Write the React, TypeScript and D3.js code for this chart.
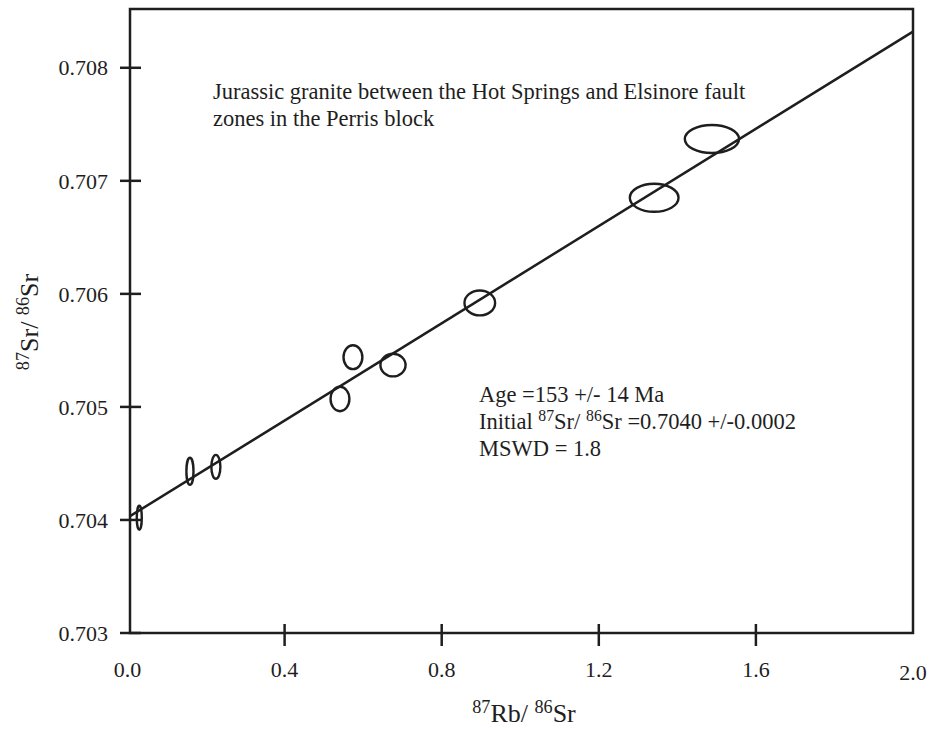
import React from 'react';
import * as d3 from 'd3';

// 87Rb/86Sr, 87Sr/86Sr and the half-axes of each error ellipse
const rbSr = [0.030, 0.159, 0.225, 0.541, 0.574, 0.676, 0.897, 1.341, 1.488];
const srSr = [0.70402, 0.70443, 0.70447, 0.70507, 0.70544, 0.70537, 0.70592, 0.70685, 0.70737];
const errX = [0.0064, 0.009, 0.0115, 0.024, 0.024, 0.032, 0.039, 0.062, 0.069];
const errY = [0.000106, 0.00012, 0.000106, 0.000108, 0.000106, 0.0001, 0.00011, 0.000124, 0.000124];

const xTicks = [0.0, 0.4, 0.8, 1.2, 1.6, 2.0];
const yTicks = [0.703, 0.704, 0.705, 0.706, 0.707, 0.708];

// isochron fit
const intercept = 0.70402;
const slope = 0.00215;

const FONT = '"Liberation Serif", "Times New Roman", serif';
const INK = '#1e1e1e';

// text with superscripts: parts alternate [normal, sup, normal, sup, ...]
function SupText({ parts, size }: { parts: string[]; size: number }) {
  const out: any[] = [];
  let raised = false;
  parts.forEach((p, i) => {
    const sup = i % 2 === 1;
    let dy = 0;
    if (sup && !raised) { dy = -size * 0.36; raised = true; }
    if (!sup && raised) { dy = size * 0.36; raised = false; }
    if (p === '') return;
    out.push(
      <tspan key={i} dy={dy || undefined} fontSize={sup ? size * 0.7 : size}>{p}</tspan>
    );
  });
  return <>{out}</>;
}

export default function App() {
  const width = 935;
  const height = 730;
  const left = 130, right = 913, top = 9, bottom = 633;

  const x = d3.scaleLinear().domain([0, 2]).range([127.5, right]);
  const y = d3.scaleLinear().domain([0.703, 0.70852]).range([bottom, top]);

  const x0 = x.invert(left);
  const line = d3.line<number>()
    .x(d => x(d))
    .y(d => y(intercept + slope * d));

  const noteSize = 22.5;

  return (
    <svg width={width} height={height}
      style={{ position: 'absolute', left: 0, top: 0, background: '#fff' }}
      fontFamily={FONT}>
      {/* frame */}
      <rect x={left} y={top} width={right - left} height={bottom - top}
        fill="none" stroke={INK} strokeWidth={2.5} />

      {/* y ticks */}
      {yTicks.map(t => (
        <g key={'y' + t}>
          <line x1={left - 10} x2={left + 11} y1={y(t)} y2={y(t)} stroke={INK} strokeWidth={2.5} />
          <text x={108} y={y(t)} dy="0.35em" textAnchor="end" fontSize={22} fill={INK}>
            {d3.format('.3f')(t)}
          </text>
        </g>
      ))}

      {/* x ticks */}
      {xTicks.map(t => (
        <g key={'x' + t}>
          {t > 0 && t < 2 && (
            <line x1={x(t)} x2={x(t)} y1={bottom - 9} y2={bottom + 13} stroke={INK} strokeWidth={2.5} />
          )}
          <text x={x(t)} y={t === 2 ? 680 : 677} textAnchor="middle" fontSize={22} fill={INK}>
            {d3.format('.1f')(t)}
          </text>
        </g>
      ))}

      {/* isochron */}
      <path d={line([x0, 2]) || ''} fill="none" stroke={INK} strokeWidth={2.5} />

      {/* error ellipses */}
      {rbSr.map((v, i) => (
        <ellipse key={i}
          cx={x(v)} cy={y(srSr[i])}
          rx={x(v + errX[i]) - x(v)} ry={y(srSr[i]) - y(srSr[i] + errY[i])}
          fill="none" stroke={INK} strokeWidth={2.4} />
      ))}

      {/* annotations */}
      <text x={213} y={99} fontSize={noteSize} fill={INK}>
        Jurassic granite between the Hot Springs and Elsinore fault
      </text>
      <text x={213} y={126} fontSize={noteSize} fill={INK}>zones in the Perris block</text>

      <text x={479} y={402} fontSize={noteSize} fill={INK}>Age =153 +/- 14 Ma</text>
      <text x={479} y={429} fill={INK}>
        <SupText size={noteSize} parts={['Initial ', '87', 'Sr/ ', '86', 'Sr =0.7040 +/-0.0002']} />
      </text>
      <text x={479} y={456} fontSize={noteSize} fill={INK}>MSWD = 1.8</text>

      {/* axis titles */}
      <text x={524} y={722} textAnchor="middle" fill={INK}>
        <SupText size={26} parts={['', '87', 'Rb/ ', '86', 'Sr']} />
      </text>
      <text transform={`translate(38,${322}) rotate(-90)`} textAnchor="middle" fill={INK}>
        <SupText size={26} parts={['', '87', 'Sr/ ', '86', 'Sr']} />
      </text>
    </svg>
  );
}
